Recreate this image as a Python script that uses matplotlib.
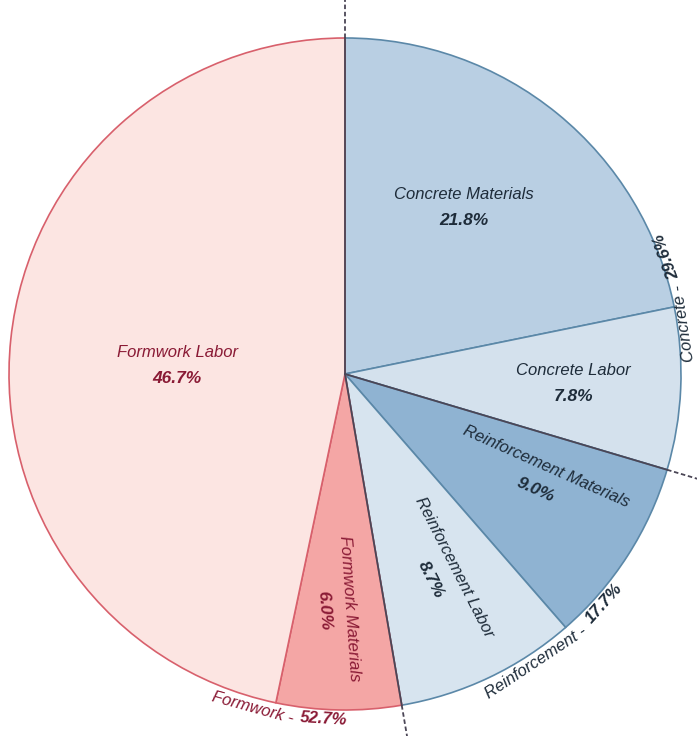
import numpy as np
import matplotlib
matplotlib.use("Agg")
import matplotlib.pyplot as plt

# ----- DATA -----
slice_names = ["Concrete Materials", "Concrete Labor", "Reinforcement Materials",
               "Reinforcement Labor", "Formwork Materials", "Formwork Labor"]
slice_pct = [21.8, 7.8, 9.0, 8.7, 6.0, 46.7]
group_names = ["Concrete", "Reinforcement", "Formwork"]
group_pct = [29.6, 17.7, 52.7]
group_of_slice = [0, 0, 1, 1, 2, 2]

# ----- STYLE -----
face = ["#b9cfe3", "#d4e1ed", "#8fb3d2", "#d7e4ef", "#f4a6a5", "#fce5e2"]
edge = ["#5b88a8", "#5b88a8", "#5b88a8", "#5b88a8", "#d8606c", "#d8606c"]
txt_blue = "#1e2c3a"
txt_red = "#8a1a35"
txt_col = [txt_blue, txt_blue, txt_blue, txt_blue, txt_red, txt_red]
FONT = ["Liberation Sans", "DejaVu Sans"]

# label placement: (radius fraction, angle, rotation)
inner_pos = [(0.61, 54.5, 0), (0.68, -2.5, 0), (0.66, -28, -24),
             (0.66, -64, -63), (0.70, -92, -86), (0.50, 177, 0)]
# centre angle and gap from rim of each rim label
outer_ang = [13.0, -52.0, -101.0]
outer_off = [7, 10, 10]

R = 336
cx, cy = 345, 374
W, H = 697, 736

fig = plt.figure(figsize=(W / 100, H / 100), dpi=100)
ax = fig.add_axes([0, 0, 1, 1])

wedges, _ = ax.pie(slice_pct, radius=R, startangle=90, counterclock=False,
                   colors=face, wedgeprops=dict(linewidth=1.2))
for w, ec in zip(wedges, edge):
    w.set_edgecolor(ec)

ax.set_aspect("auto")
ax.set_xlim(-cx, W - cx)
ax.set_ylim(-(H - cy), cy)
ax.axis("off")

# slice labels
for i, w in enumerate(wedges):
    frac, ang, rot = inner_pos[i]
    a = np.deg2rad(ang)
    x, y = frac * R * np.cos(a), frac * R * np.sin(a)
    # offset the two lines perpendicular to the text direction
    ra = np.deg2rad(rot)
    nx, ny = -np.sin(ra), np.cos(ra)
    d = 13
    ax.text(x + nx * d, y + ny * d, slice_names[i], family=FONT, style="italic",
            fontsize=12, color=txt_col[i], ha="center", va="center",
            rotation=rot, rotation_mode="anchor")
    ax.text(x - nx * d, y - ny * d, f"{slice_pct[i]:.1f}%", family=FONT,
            style="italic", fontweight="bold", fontsize=12.5, color=txt_col[i],
            ha="center", va="center", rotation=rot, rotation_mode="anchor")

# group boundaries: dark inside the pie, dashed outside
bounds = [90]
acc = 90
for g in range(len(group_names)):
    acc -= sum(p for p, gi in zip(slice_pct, group_of_slice) if gi == g) * 3.6
    bounds.append(acc)
for b in bounds[:-1]:
    c, s = np.cos(np.deg2rad(b)), np.sin(np.deg2rad(b))
    ax.plot([0, R * c], [0, R * s], lw=1.3, color="#4b4656", zorder=5)
    ax.plot([R * c, 1.12 * R * c], [R * s, 1.12 * R * s],
            ls=(0, (2.5, 1.5)), lw=1.3, color="#4b4656", zorder=5)

# group labels around the rim, each piece placed along the arc
renderer = fig.canvas.get_renderer()
gcol = [txt_blue, txt_blue, txt_red]
gap = 7
for g in range(len(group_names)):
    rr = R + outer_off[g]
    parts = [(group_names[g] + " -", "normal"), (f"{group_pct[g]:.1f}%", "bold")]
    widths = []
    for s, wt in parts:
        t = ax.text(0, 0, s, family=FONT, style="italic", fontweight=wt,
                    fontsize=12)
        widths.append(t.get_window_extent(renderer).width)
        t.remove()
    total = sum(widths) + gap
    start = outer_ang[g] - np.rad2deg(total / 2 / rr)
    pos = 0
    for (s, wt), wd in zip(parts, widths):
        ang = start + np.rad2deg((pos + wd / 2) / rr)
        a = np.deg2rad(ang)
        ax.text(rr * np.cos(a), rr * np.sin(a), s, family=FONT, style="italic",
                fontweight=wt, fontsize=12, color=gcol[g], ha="center",
                va="center", rotation=ang + 90, rotation_mode="anchor")
        pos += wd + gap

fig.savefig("out.png", dpi=100)
